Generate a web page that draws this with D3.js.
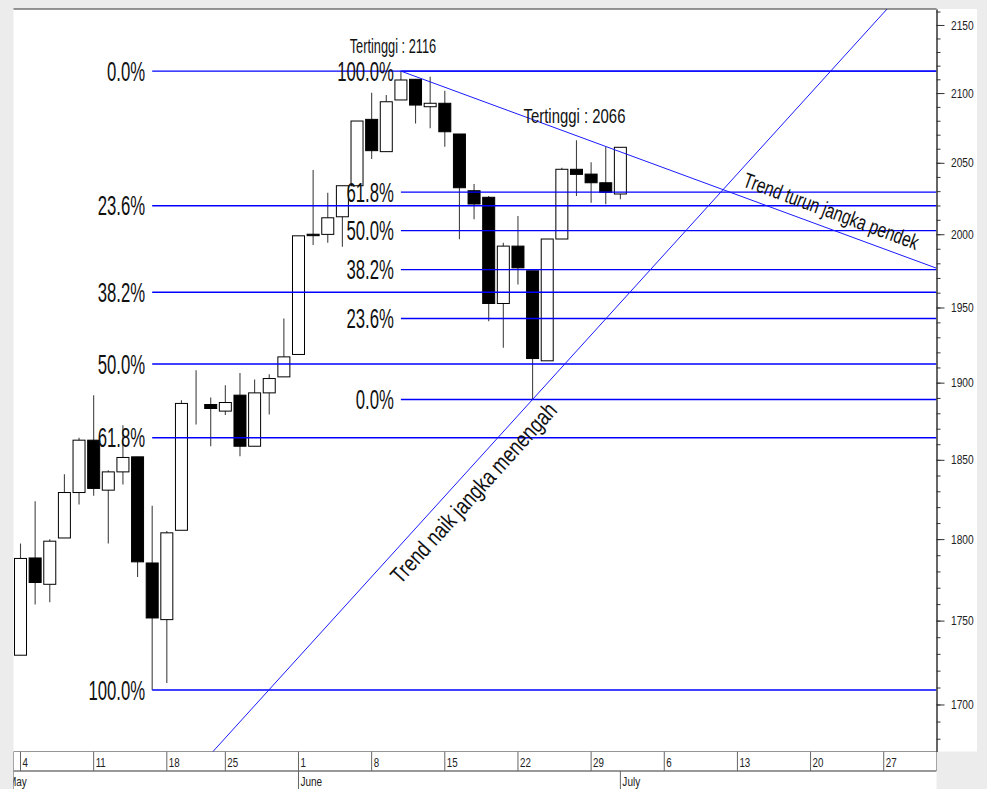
<!DOCTYPE html>
<html>
<head>
<meta charset="utf-8">
<script src="https://cdn.jsdelivr.net/npm/d3@7"></script>
<style>
  body { margin: 0; background: #ececec; }
  svg { display: block; font-family: "Liberation Sans", Arial, sans-serif; }
</style>
</head>
<body>
<svg id="chart" width="987" height="789"></svg>
<script>
// daily candles, 4 May - 1 July 2009
const dates = ["2009-05-04","2009-05-05","2009-05-06","2009-05-07","2009-05-08",
  "2009-05-11","2009-05-12","2009-05-13","2009-05-14","2009-05-15",
  "2009-05-18","2009-05-19","2009-05-20","2009-05-22",
  "2009-05-25","2009-05-26","2009-05-27","2009-05-28","2009-05-29",
  "2009-06-01","2009-06-02","2009-06-03","2009-06-04","2009-06-05",
  "2009-06-08","2009-06-09","2009-06-10","2009-06-11","2009-06-12",
  "2009-06-15","2009-06-16","2009-06-17","2009-06-18","2009-06-19",
  "2009-06-22","2009-06-23","2009-06-24","2009-06-25","2009-06-26",
  "2009-06-29","2009-06-30","2009-07-01"]
const open = [1729.2, 1788.3, 1772.1, 1800.7, 1829.2, 1862.6, 1830.7, 1842.3, 1851.9, 1785.2,
  1750.6, 1805.5, 1873.0, 1885.7, 1881.4, 1891.8, 1858.7, 1893.3, 1903.8, 1918.6,
  2000.0, 1999.9, 2012.1, 2033.8, 2081.0, 2057.9, 2095.0, 2110.0, 2090.1, 2092.6,
  2070.5, 2030.3, 2025.7, 1952.7, 1991.8, 1974.9, 1914.4, 1996.7, 2045.4, 2042.0,
  2035.9, 2028.0]
const high = [1797.2, 1823.7, 1799.9, 1840.8, 1864.1, 1891.8, 1843.4, 1872.3, 1851.9, 1820.8,
  1805.1, 1888.5, 1908.2, 1890.3, 1898.3, 1906.4, 1902.1, 1905.6, 1942.6, 1998.9,
  2044.9, 2028.9, 2033.8, 2079.8, 2100.3, 2098.6, 2116.0, 2110.0, 2111.9, 2101.7,
  2070.5, 2035.0, 2026.6, 1994.1, 2012.6, 1974.9, 1996.7, 2046.5, 2066.0, 2050.3,
  2061.4, 2061.0]
const low = [1729.2, 1759.7, 1761.1, 1800.7, 1821.7, 1827.1, 1797.2, 1834.3, 1776.6, 1708.5,
  1712.7, 1805.5, 1872.7, 1858.7, 1878.8, 1852.3, 1858.7, 1879.2, 1903.8, 1918.6,
  1992.5, 1994.1, 1991.4, 2033.8, 2052.7, 2057.9, 2095.0, 2078.1, 2074.6, 2061.4,
  1996.5, 2010.3, 1940.8, 1923.0, 1965.6, 1889.0, 1914.4, 1996.7, 2026.6, 2021.9,
  2020.8, 2024.3]
const close = [1788.0, 1773.2, 1798.7, 1829.2, 1862.6, 1831.8, 1842.3, 1851.5, 1785.9, 1751.6,
  1803.9, 1886.4, 1873.0, 1883.1, 1887.0, 1858.7, 1893.3, 1902.7, 1917.0, 1998.9,
  1999.0, 2011.4, 2033.8, 2079.8, 2058.6, 2093.7, 2109.5, 2091.3, 2092.6, 2072.1,
  2032.4, 2021.0, 1952.7, 1991.8, 1976.9, 1915.9, 1996.7, 2045.4, 2041.8, 2035.9,
  2029.2, 2061.0]

const holidays = ["2009-05-21"]
const weekTicks = ["2009-05-04","2009-05-11","2009-05-18","2009-05-25","2009-06-01","2009-06-08",
  "2009-06-15","2009-06-22","2009-06-29","2009-07-06","2009-07-13","2009-07-20","2009-07-27"]
const monthTicks = [["2009-05-01", "May"], ["2009-06-01", "June"], ["2009-07-01", "July"]]
const yMajor = [1700, 1750, 1800, 1850, 1900, 1950, 2000, 2050, 2100, 2150]
const yMinor = d3.range(1680, 2161, 10)

// fibonacci retracements
const fibRatios = [0, 0.236, 0.382, 0.5, 0.618, 1]
const fibHigh = 2116
const fibLowA = 1708.5   // 15 May low
const fibLowB = 1889     // 23 June low
const fibStartA = "2009-05-15"
const fibStartB = "2009-06-10"

// trend lines, two anchors each [date, price]
const downTrend = [["2009-06-10", 2116], ["2009-07-06", 2046.3]]
const upTrend = [["2009-06-23", 1889], ["2009-07-21", 2111.6]]

const peaks = [["2009-06-10", 2116], ["2009-06-26", 2066]]

const W = 987, H = 789
const pLeft = 13.5, pTop = 9, pRight = 936.5, pBottom = 751.5

const fmt = d3.timeFormat("%Y-%m-%d")
const parse = d3.timeParse("%Y-%m-%d")
let calendar = d3.timeDay.range(new Date(2009, 4, 1), new Date(2009, 7, 1))
  .filter(d => d.getDay() !== 0 && d.getDay() !== 6 && !holidays.includes(fmt(d)))
  .map(fmt)
let dayIndex = new Map(calendar.map((d, i) => [d, i]))

let x = d3.scaleLinear().domain([0.555, 63.6]).range([14, 936.4])
let xd = d => x(dayIndex.get(d))
let y = d3.scaleLog().domain([1672.6, 2161.9]).range([pBottom, pTop])

let svg = d3.select("#chart")
let defs = svg.append("defs")
defs.append("clipPath").attr("id", "plot")
  .append("rect").attr("x", pLeft).attr("y", pTop).attr("width", pRight - pLeft).attr("height", pBottom - pTop)
defs.append("clipPath").attr("id", "band")
  .append("rect").attr("x", pLeft).attr("y", pBottom).attr("width", pRight - pLeft).attr("height", H - pBottom)

svg.append("rect").attr("width", W).attr("height", H).attr("fill", "#ececec")
svg.append("rect").attr("x", pLeft).attr("y", pTop).attr("width", 977 - pLeft).attr("height", pBottom - pTop).attr("fill", "#fff")
svg.append("rect").attr("x", pLeft).attr("y", pBottom).attr("width", pRight - pLeft).attr("height", H - pBottom).attr("fill", "#fff")

let plot = svg.append("g").attr("clip-path", "url(#plot)")

// candles
let candles = dates.map((d, i) => ({ d, o: open[i], h: high[i], l: low[i], c: close[i] }))
plot.selectAll(".wick").data(candles).join("line")
  .attr("class", "wick")
  .attr("x1", d => xd(d.d)).attr("x2", d => xd(d.d))
  .attr("y1", d => y(d.h)).attr("y2", d => y(d.l))
  .attr("stroke", "#444").attr("stroke-width", 1.1)
plot.selectAll(".body").data(candles).join("rect")
  .attr("class", "body")
  .attr("x", d => xd(d.d) - 6)
  .attr("y", d => y(Math.max(d.o, d.c)))
  .attr("width", 12)
  .attr("height", d => y(Math.min(d.o, d.c)) - y(Math.max(d.o, d.c)))
  .attr("fill", d => d.c >= d.o ? "#fff" : "#000")
  .attr("stroke", "#000").attr("stroke-width", 1)

// fib levels
let pct = d3.format(".1%")
let fibA = fibRatios.map(r => ({ label: pct(r), v: fibHigh - r * (fibHigh - fibLowA), x0: xd(fibStartA) }))
let fibB = fibRatios.map(r => ({ label: pct(r), v: fibLowB + r * (fibHigh - fibLowB), x0: xd(fibStartB) }))
let fibs = fibA.concat(fibB)

plot.selectAll(".fib").data(fibs).join("line")
  .attr("class", "fib")
  .attr("x1", d => d.x0).attr("x2", pRight)
  .attr("y1", d => y(d.v)).attr("y2", d => y(d.v))
  .attr("stroke", "#0000ff").attr("stroke-width", 1.4)

// trend lines
let px = p => [xd(p[0]), y(p[1])]
let lineY = (a, b, xv) => a[1] + (b[1] - a[1]) * (xv - a[0]) / (b[0] - a[0])

let dA = px(downTrend[0]), dB = px(downTrend[1])
plot.append("line")
  .attr("x1", dA[0]).attr("y1", dA[1])
  .attr("x2", pRight).attr("y2", lineY(dA, dB, pRight))
  .attr("stroke", "#1a1aff").attr("stroke-width", 1)

let uA = px(upTrend[0]), uB = px(upTrend[1])
plot.append("line")
  .attr("x1", pLeft).attr("y1", lineY(uA, uB, pLeft))
  .attr("x2", pRight).attr("y2", lineY(uA, uB, pRight))
  .attr("stroke", "#1a1aff").attr("stroke-width", 1)

let labels = svg.append("g").attr("fill", "#111")

labels.selectAll(".fibLabel").data(fibs).join("text")
  .attr("class", "fibLabel")
  .attr("text-anchor", "end")
  .attr("dy", "0.36em")
  .attr("font-size", 27)
  .attr("transform", d => `translate(${d.x0 - 7},${y(d.v)}) scale(0.62,1)`)
  .text(d => d.label)

labels.selectAll(".peak").data(peaks).join("text")
  .attr("class", "peak")
  .attr("text-anchor", "middle")
  .attr("font-size", (d, i) => i == 0 ? 20 : 21)
  .attr("transform", (d, i) => i == 0
    ? `translate(${xd(d[0]) - 8},${y(d[1]) - 18}) scale(0.64,1)`
    : `translate(${xd(d[0]) - 2},${y(d[1]) - 17}) scale(0.71,1)`)
  .text(d => `Tertinggi : ${d[1]}`)

let trendLabel = (a, b, atDate, offset, text, size, sx) => {
  let cx = xd(atDate)
  let cy = lineY(a, b, cx)
  let ang = Math.atan2(b[1] - a[1], b[0] - a[0])
  let bx = cx - Math.sin(ang) * offset
  let by = cy + Math.cos(ang) * offset
  labels.append("text")
    .attr("text-anchor", "middle")
    .attr("font-size", size)
    .attr("transform", `translate(${bx},${by}) rotate(${ang * 180 / Math.PI}) scale(${sx},1)`)
    .text(text)
}
trendLabel(dA, dB, "2009-07-21", -10, "Trend turun jangka pendek", 21, 0.74)
trendLabel(uA, uB, "2009-06-16", 27, "Trend naik jangka menengah", 23, 0.79)

// frame
svg.append("line").attr("x1", pLeft).attr("x2", pRight).attr("y1", pTop).attr("y2", pTop)
  .attr("stroke", "#333")

// right price axis
let yAxis = svg.append("g").attr("transform", `translate(${pRight},0)`)
yAxis.call(d3.axisRight(y).tickValues(yMinor).tickSize(4).tickSizeOuter(0).tickFormat(""))
yAxis.append("g").call(d3.axisRight(y).tickValues(yMajor).tickSize(8).tickSizeOuter(0).tickFormat(d3.format("d")))
yAxis.selectAll("path").attr("stroke", "#333")
yAxis.selectAll("line").attr("stroke", "#333")
yAxis.selectAll("text")
  .attr("font-size", 13)
  .attr("font-family", "Liberation Sans, Arial, sans-serif")
  .attr("fill", "#222")
  .attr("x", 14.5 / 0.785)
  .attr("transform", "scale(0.785,1)")

// date band
let band = svg.append("g").attr("clip-path", "url(#band)")
band.append("line").attr("x1", pLeft).attr("x2", pRight).attr("y1", pBottom).attr("y2", pBottom).attr("stroke", "#333")
band.append("line").attr("x1", pLeft).attr("x2", pRight).attr("y1", 771).attr("y2", 771).attr("stroke", "#333")
band.append("line").attr("x1", pLeft).attr("x2", pLeft).attr("y1", pBottom).attr("y2", H).attr("stroke", "#555")
band.append("line").attr("x1", pRight).attr("x2", pRight).attr("y1", pBottom).attr("y2", 771).attr("stroke", "#555")

band.selectAll(".wk").data(weekTicks).join("line")
  .attr("class", "wk")
  .attr("x1", d => xd(d)).attr("x2", d => xd(d))
  .attr("y1", pBottom).attr("y2", 771)
  .attr("stroke", "#666")
band.selectAll(".wkLabel").data(weekTicks).join("text")
  .attr("class", "wkLabel")
  .attr("font-size", 13).attr("fill", "#222")
  .attr("transform", d => `translate(${xd(d) + 2},767) scale(0.75,1)`)
  .text(d => parse(d).getDate())

band.selectAll(".mo").data(monthTicks).join("line")
  .attr("class", "mo")
  .attr("x1", d => xd(d[0])).attr("x2", d => xd(d[0]))
  .attr("y1", 771).attr("y2", H)
  .attr("stroke", "#666")
band.selectAll(".moLabel").data(monthTicks).join("text")
  .attr("class", "moLabel")
  .attr("font-size", 13).attr("fill", "#222")
  .attr("transform", d => `translate(${xd(d[0]) + 2},786) scale(0.77,1)`)
  .text(d => d[1])
</script>
</body>
</html>
